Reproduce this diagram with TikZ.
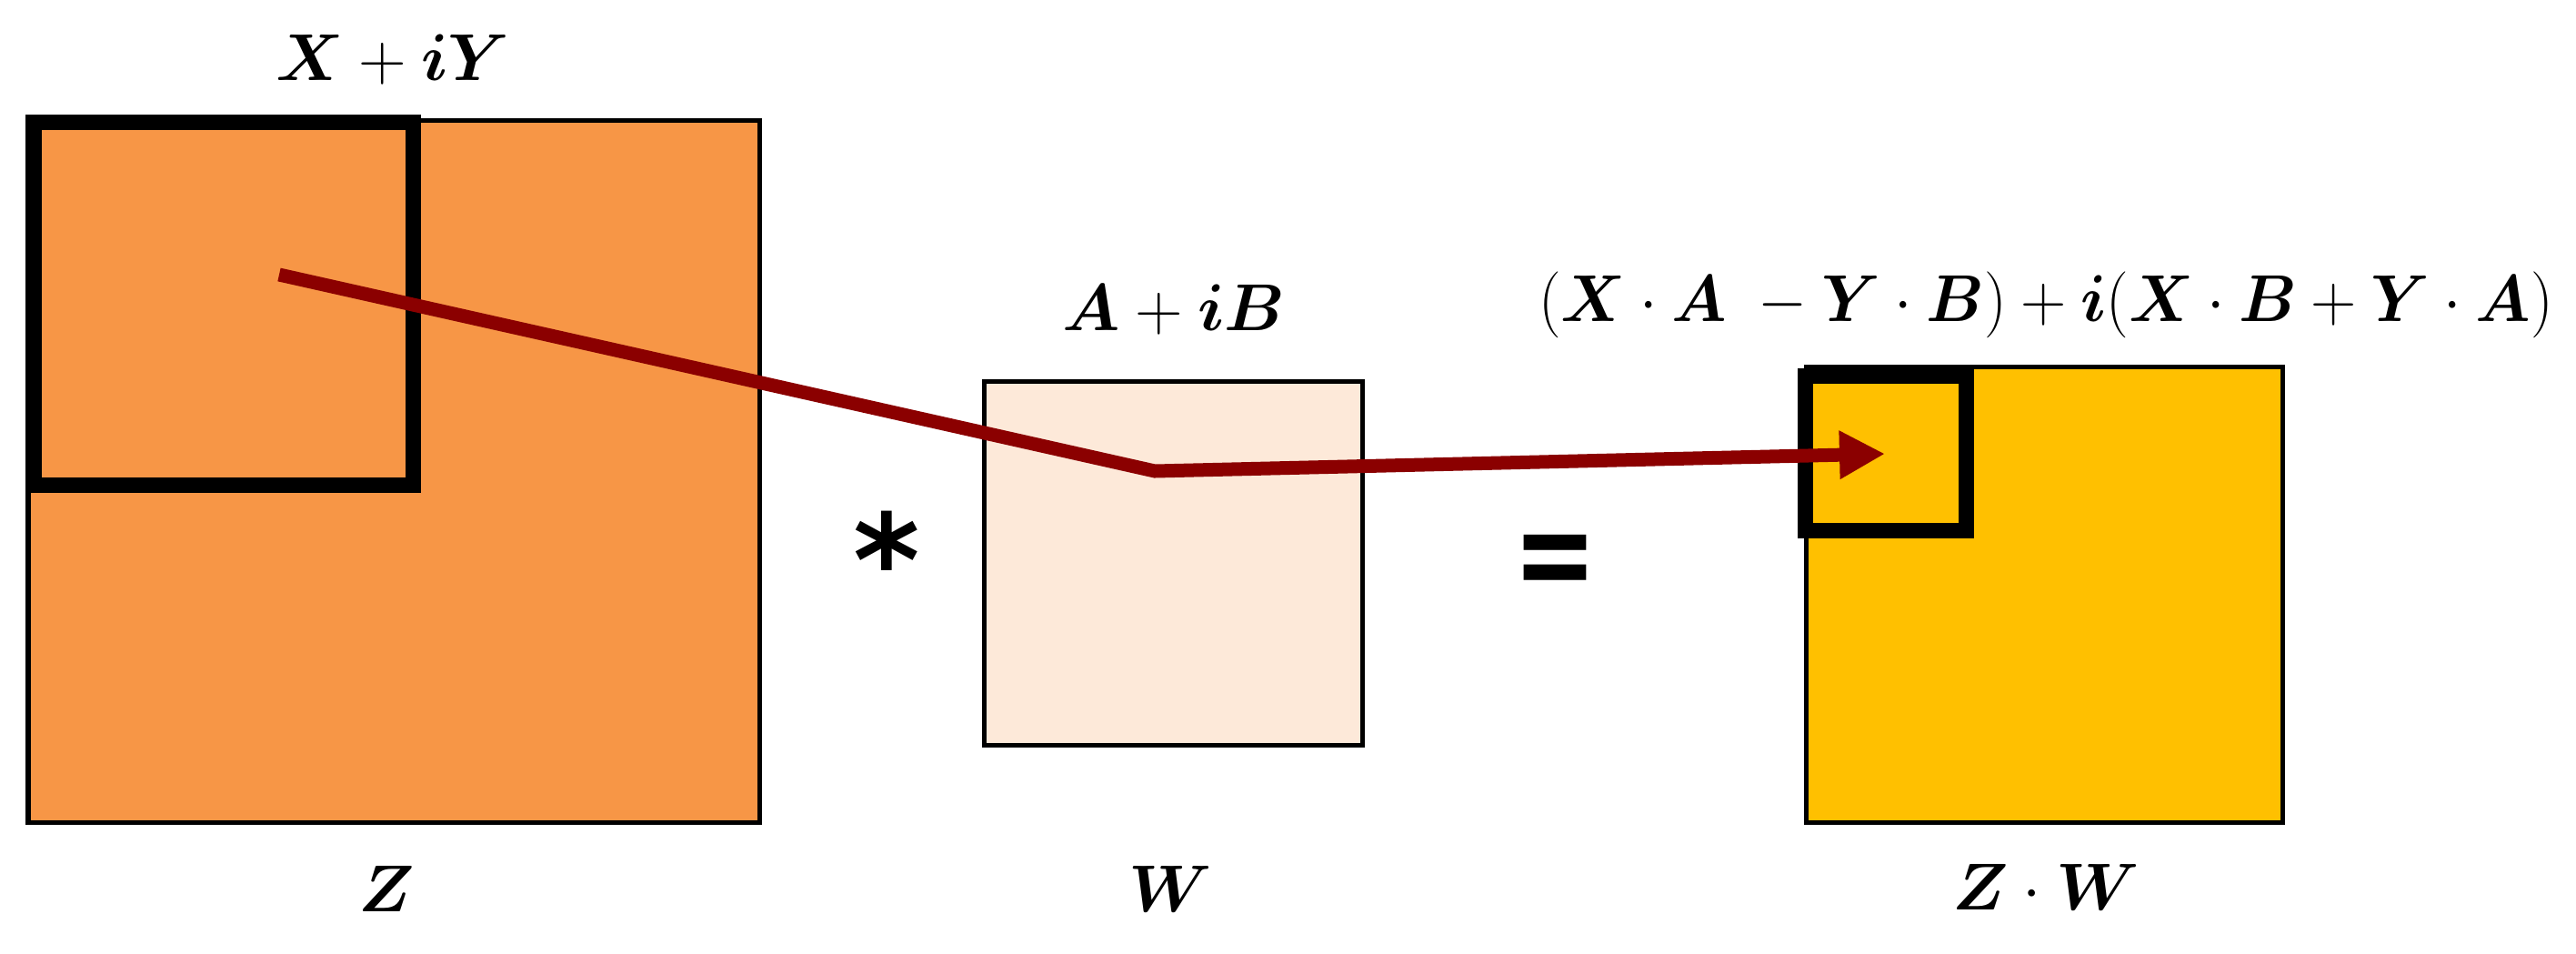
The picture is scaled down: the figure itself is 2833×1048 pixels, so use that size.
\documentclass[tikz,border=0pt]{standalone}
\usepackage{bm}
\usepackage{fontspec}
\newfontfamily\opfont{DejaVu Sans}[BoldFont={DejaVu Sans Bold}]
\usetikzlibrary{arrows.meta}
\definecolor{zorange}{HTML}{F79646}
\definecolor{wlight}{HTML}{FDE9D9}
\definecolor{zyellow}{HTML}{FFC000}
\definecolor{arrowred}{HTML}{8B0000}
\begin{document}
\begin{tikzpicture}[x=0.01cm,y=-0.01cm,
  thinbox/.style={draw=black, line width=0.05cm},
  thickbox/.style={draw=black, line width=0.17cm},
  lbl/.style={inner sep=0pt, anchor=base, font=\fontsize{21}{25}\selectfont},
  opsym/.style={inner sep=0pt, font=\opfont\bfseries\fontsize{40}{44}\selectfont},
  flow/.style={draw=arrowred, line width=0.15cm, line join=miter,
    -{Triangle[length=0.5cm,width=0.5cm]}}]
\useasboundingbox (0,0) rectangle (2833,1048);
% matrices
\filldraw[fill=zorange, thinbox] (31,132) rectangle (835,904);
\draw[thickbox] (37,134) rectangle (454,533);
\filldraw[fill=wlight, thinbox] (1082,419) rectangle (1498,819);
\filldraw[fill=zyellow, thinbox] (1986,403) rectangle (2510,904);
\draw[thickbox] (1985,413) rectangle (2162,583);
% arrow
\coordinate (src) at (307,302);
\coordinate (bend) at (1270,518);
\coordinate (dst) at (2073,499);
\draw[flow] (src) -- (bend) -- (dst);
% labels
\node[lbl] (lxy) at (432,88) {$\bm{X}+\bm{i}\bm{Y}$};
\node[lbl] (lab) at (1291,363) {$\bm{A}+\bm{i}\bm{B}$};
\node[lbl] (lform) at (2250,353) {\scalebox{0.955}[1]{$(\bm{X}\cdot\bm{A}\;-\bm{Y}\cdot\bm{B})+\bm{i}(\bm{X}\cdot\bm{B}+\bm{Y}\cdot\bm{A})$}};
\node[lbl] (lz) at (425,1002) {$\bm{Z}$};
\node[lbl] (lw) at (1287,1002) {$\bm{W}$};
\node[lbl] (lzw) at (2250,1000) {$\bm{Z}\cdot\bm{W}$};
\node[opsym] (star) at (975,614) {*};
\node[opsym] (eq) at (1710,624) {\scalebox{0.78}[1.05]{=}};
\end{tikzpicture}
\end{document}
